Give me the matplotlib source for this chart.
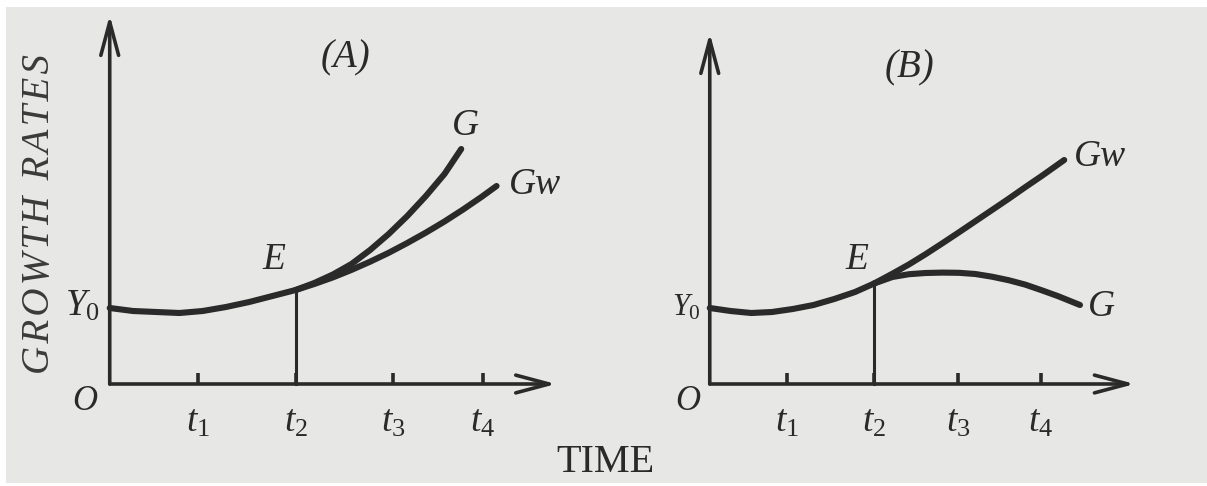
import matplotlib
matplotlib.use('Agg')
import matplotlib.pyplot as plt
from matplotlib.patches import Rectangle

plt.rcParams['font.family'] = ['Liberation Serif', 'DejaVu Serif']
plt.rcParams['mathtext.fontset'] = 'custom'
plt.rcParams['mathtext.it'] = 'Liberation Serif:italic'
plt.rcParams['mathtext.rm'] = 'Liberation Serif'

INK = '#2a2a2a'
PAPER = '#e7e7e5'

# time axis is in units of the tick spacing, growth rate in arbitrary units
TICK_LABELS = [r'$t_{\mathit{1}}$', r'$t_{\mathit{2}}$', r'$t_{\mathit{3}}$', r'$t_{\mathit{4}}$']

# panel A: actual growth G rises faster than warranted growth Gw after E
A_ticks = [0.95, 2.0, 3.05, 4.01]
A_base_t = [0, 0.25, 0.5, 0.75, 1.0, 1.25, 1.5, 1.75, 2.0]
A_base_y = [0.76, 0.73, 0.72, 0.71, 0.73, 0.77, 0.82, 0.88, 0.94]
A_g_t = [2.0, 2.2, 2.4, 2.6, 2.8, 3.0, 3.2, 3.4, 3.6, 3.78]
A_g_y = [0.94, 1.01, 1.095, 1.20, 1.34, 1.50, 1.68, 1.88, 2.10, 2.35]
A_gw_t = [2.0, 2.2, 2.4, 2.6, 2.8, 3.0, 3.2, 3.4, 3.6, 3.8, 4.0, 4.16]
A_gw_y = [0.94, 1.00, 1.066, 1.141, 1.223, 1.312, 1.41, 1.514, 1.625, 1.745, 1.872, 1.98]

# panel B: Gw keeps rising, G levels off and falls back
B_ticks = [0.93, 1.98, 2.99, 3.99]
B_base_t = [0, 0.25, 0.5, 0.75, 1.0, 1.25, 1.5, 1.75, 1.98]
B_base_y = [0.76, 0.73, 0.71, 0.72, 0.75, 0.79, 0.85, 0.92, 1.005]
B_gw_t = [1.98, 2.2, 2.4, 2.6, 2.8, 3.0, 3.2, 3.4, 3.6, 3.8, 4.0, 4.27]
B_gw_y = [1.005, 1.103, 1.196, 1.298, 1.406, 1.516, 1.628, 1.74, 1.852, 1.968, 2.081, 2.24]
B_g_t = [1.98, 2.2, 2.4, 2.6, 2.8, 3.0, 3.2, 3.4, 3.6, 3.8, 4.0, 4.2, 4.46]
B_g_y = [1.005, 1.07, 1.098, 1.11, 1.114, 1.112, 1.10, 1.073, 1.038, 0.994, 0.937, 0.877, 0.79]


def draw_panel(ax, xlim, x_end, y_end, ticks, base, branches, title, labels, y0_size):
  ax.set_xlim(*xlim)
  ax.set_ylim(-1.02, 3.84)
  ax.set_axis_off()

  arrow = dict(arrowstyle='->,head_length=1.2,head_width=0.32', lw=2.6,
               color=INK, mutation_scale=20, shrinkA=0, shrinkB=0)
  ax.annotate('', xy=(x_end, 0), xytext=(0, 0), arrowprops=arrow)
  ax.annotate('', xy=(0, y_end), xytext=(0, 0), arrowprops=arrow)

  for i, tk in enumerate(ticks):
    ax.plot([tk, tk], [0, 0.11], color=INK, lw=2.6, solid_capstyle='butt')
    ax.text(tk, -0.48, TICK_LABELS[i], fontsize=27, color=INK,
            ha='center', va='baseline')

  ax.plot(base[0], base[1], color=INK, lw=4.4, solid_capstyle='round')
  for bt, by in branches:
    ax.plot(bt, by, color=INK, lw=4.4, solid_capstyle='round')

  # drop line from E to the time axis
  ax.plot([base[0][-1], base[0][-1]], [0, base[1][-1]], color=INK, lw=2.2)

  ax.text(title[0], title[1], title[2], fontsize=28, style='italic',
          color=INK, ha='center', va='center')
  for x, y, s in labels:
    ax.text(x, y, s, fontsize=27, style='italic', color=INK,
            ha='center', va='center')
  ax.text(-0.11, base[1][0] - 0.08, r'$Y_{\mathit{0}}$', fontsize=y0_size,
          color=INK, ha='right', va='baseline')
  ax.text(-0.27, -0.17, 'O', fontsize=25, style='italic', color=INK,
          ha='center', va='center')


fig = plt.figure(figsize=(12.07, 4.86), dpi=100)
fig.patch.set_facecolor('white')
fig.patches.append(Rectangle((6 / 1207, 3 / 486), 1, 1 - 10 / 486,
                             transform=fig.transFigure, facecolor=PAPER,
                             edgecolor='none', zorder=-10))

ax_a = fig.add_axes([0, 0, 0.5, 1])
ax_b = fig.add_axes([0.5, 0, 0.5, 1])

draw_panel(ax_a, (-1.18, 5.31), 4.8, 3.69, A_ticks,
           (A_base_t, A_base_y), [(A_g_t, A_g_y), (A_gw_t, A_gw_y)],
           (2.54, 3.26, '(A)'),
           [(3.83, 2.58, 'G'), (4.57, 1.99, 'Gw'), (1.76, 1.24, 'E')], 27)
draw_panel(ax_b, (-1.28, 5.99), 5.12, 3.51, B_ticks,
           (B_base_t, B_base_y), [(B_gw_t, B_gw_y), (B_g_t, B_g_y)],
           (2.41, 3.16, '(B)'),
           [(4.70, 2.27, 'Gw'), (4.72, 0.77, 'G'), (1.77, 1.24, 'E')], 22)

fig.text(605 / 1207, 1 - 462 / 486, 'TIME', fontsize=29, color=INK,
         ha='center', va='center')
fig.text(40 / 1207, 1 - 214 / 486,
         '\u200a'.join('GROWTH RATES'), fontsize=28, style='italic',
         color='#3a3a3a', rotation=90, ha='center', va='center')

fig.savefig('out.png', dpi=100, facecolor=fig.get_facecolor())
